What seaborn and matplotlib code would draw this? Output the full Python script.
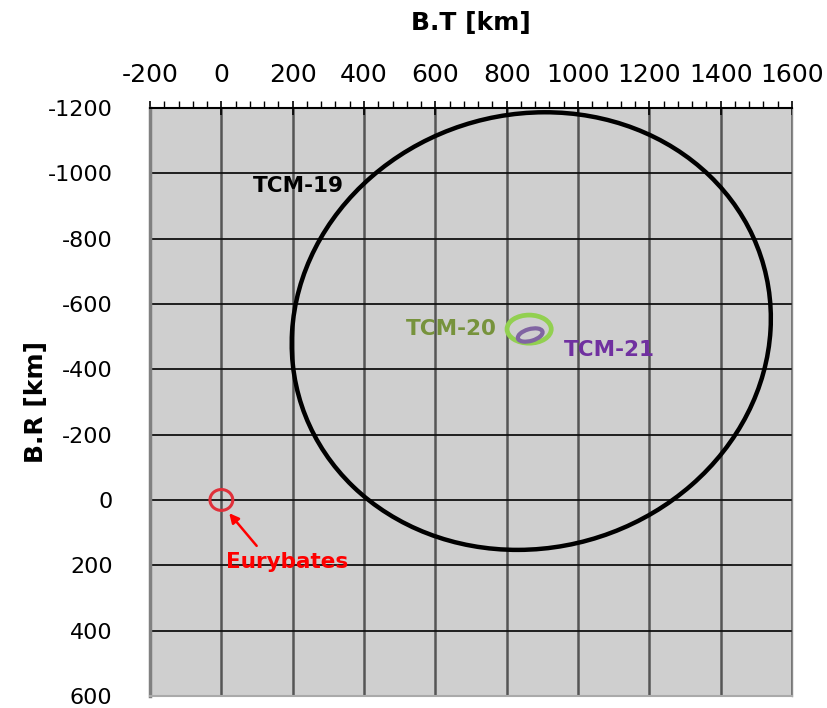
import matplotlib
matplotlib.use('Agg')
import matplotlib.pyplot as plt
import seaborn as sns
from matplotlib.patches import Ellipse
from matplotlib.ticker import MultipleLocator

sns.set_style('white')
plt.rcParams['font.family'] = ['DejaVu Sans']
plt.rcParams['axes.unicode_minus'] = False

# ellipse data (km in the B-plane)
names = ['TCM-19', 'TCM-20', 'TCM-21', 'Eurybates']
center_bt = [869, 863, 866, 0]
center_br = [-517, -523, -505, 0]
semi_major = [690, 62, 36, 32]
semi_minor = [651, 43, 18, 32]
tilt_deg = [-43.6, 0, -18, 0]
line_colors = ['black', '#92D050', '#8064A2', '#E0303A']
line_widths = [3.2, 3.4, 3.0, 2.2]

# label positions
label_bt = [217, 644, 1087, 183]
label_br = [-961, -523, -459, 190]
label_colors = ['black', '#77933C', '#7030A0', '#FF0000']

arrow_tail = (104, 147)
arrow_tip = (17, 34)

bt_ticks = [-200, 0, 200, 400, 600, 800, 1000, 1200, 1400, 1600]
br_ticks = [-1200, -1000, -800, -600, -400, -200, 0, 200, 400, 600]

fig, ax = plt.subplots(figsize=(8.28, 7.08), dpi=100)
fig.subplots_adjust(left=0.1812, right=0.9565, top=0.8475, bottom=0.017)
ax.set_facecolor('#cfcfcf')

for i in range(len(names)):
    ax.add_patch(Ellipse((center_bt[i], center_br[i]), 2 * semi_major[i], 2 * semi_minor[i],
                         angle=tilt_deg[i], fill=False, edgecolor=line_colors[i],
                         lw=line_widths[i], zorder=3))
    ax.text(label_bt[i], label_br[i], names[i], color=label_colors[i], fontsize=15.5,
            fontweight='bold', ha='center', va='center', zorder=4)

ax.annotate('', xy=arrow_tip, xytext=arrow_tail,
            arrowprops=dict(arrowstyle='-|>', color='#FF0000', lw=1.8, mutation_scale=14),
            zorder=4)

ax.set_xlim(-200, 1600)
ax.set_ylim(600, -1200)
ax.xaxis.tick_top()
ax.xaxis.set_label_position('top')
ax.set_xticks(bt_ticks)
ax.set_xticklabels([str(t) for t in bt_ticks], fontsize=18)
ax.set_yticks(br_ticks)
ax.set_yticklabels([str(t) for t in br_ticks], fontsize=16)
ax.xaxis.set_minor_locator(MultipleLocator(40))
ax.yaxis.set_minor_locator(MultipleLocator(40))

ax.grid(True, which='major', axis='x', color='#555555', lw=1.8, zorder=1)
ax.grid(True, which='major', axis='y', color='#111111', lw=1.3, zorder=1)
ax.set_axisbelow(True)

ax.tick_params(axis='x', which='major', direction='inout', length=10, width=1.2, pad=10)
ax.tick_params(axis='x', which='minor', direction='out', length=5, width=1)
ax.tick_params(axis='y', which='major', direction='inout', length=10, width=1.2, pad=22)
ax.tick_params(axis='y', which='minor', direction='out', length=5, width=1)
ax.tick_params(axis='both', which='both', colors='black', labelcolor='black')

ax.spines['top'].set_color('black')
ax.spines['top'].set_linewidth(1.5)
ax.spines['left'].set_color('#808080')
ax.spines['left'].set_linewidth(2.5)
ax.spines['right'].set_color('#8a8a8a')
ax.spines['right'].set_linewidth(1)
ax.spines['bottom'].set_color('#aaaaaa')
ax.spines['bottom'].set_linewidth(1.5)

ax.set_xlabel('B.T [km]', fontsize=18, fontweight='bold', labelpad=24, color='black')
ax.set_ylabel('B.R [km]', fontsize=18, fontweight='bold', labelpad=0, color='black')

fig.savefig('out.png', dpi=100)
